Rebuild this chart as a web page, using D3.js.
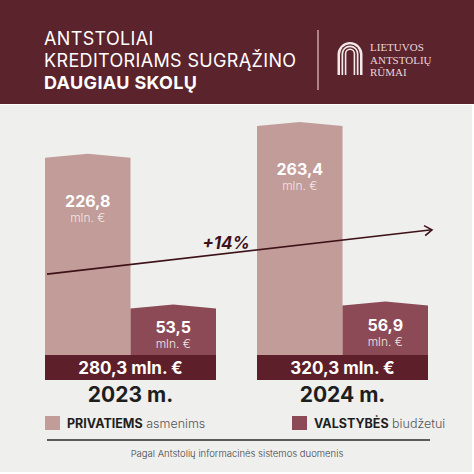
<!DOCTYPE html>
<html>
<head>
<meta charset="utf-8">
<script src="https://cdn.jsdelivr.net/npm/d3@7"></script>
<style>
  html, body { margin: 0; padding: 0; background: #ffffff; }
  svg { display: block; }
</style>
</head>
<body>
<div id="chart"></div>
<script>

const years = ["2023 m.", "2024 m."];
const privatiems = [226.8, 263.4];
const valstybes = [53.5, 56.9];
const totals = [280.3, 320.3];
const growthLabel = "+14%";
const titleLines = ["ANTSTOLIAI", "KREDITORIAMS SUGRĄŽINO", "DAUGIAU SKOLŲ"];
const logoLines = ["LIETUVOS", "ANTSTOLIŲ", "RŪMAI"];

const width = 474
const height = 474

const cPriv = "#c19c99";
const cValst = "#8c4a56";
const cTotal = "#5d1f2a";
const cHead = "#5b232c";
const cBg = "#efefed";
const sans = "Inter, 'Noto Sans', sans-serif";

const lt = d3.formatLocale({decimal: ",", thousands: " ", grouping: [3], currency: ["", " €"]});
const fmt = lt.format(".1f");

const svg = d3.select('#chart').append("svg")
  .attr("width", width)
  .attr("height", height);

// background panels
svg.append("rect").attr("width", width).attr("height", height).attr("fill", "#ffffff");
svg.append("rect").attr("x", 0).attr("y", 105).attr("width", 472).attr("height", 367).attr("fill", cBg);
svg.append("rect").attr("x", 0).attr("y", 0).attr("width", width).attr("height", 104).attr("fill", cHead);

// header title
const title = svg.append("text")
  .attr("font-family", sans)
  .attr("fill", "#ffffff")
  .attr("font-size", 18)
  .attr("letter-spacing", 0.35);
titleLines.forEach(function (t, i){
  title.append("tspan")
    .attr("x", 44)
    .attr("y", 45 + i * 22)
    .attr("font-weight", i == 2 ? 700 : 400)
    .text(t);
});

svg.append("line")
  .attr("x1", 318).attr("x2", 318)
  .attr("y1", 30).attr("y2", 90)
  .attr("stroke", "#c9a3a8")
  .attr("stroke-width", 1.5);

// logo arches
const logo = svg.append("g").attr("transform", "translate(350,75)");
const arches = [12.5, 10, 8.5, 6.8, 5.2, 3.6];
arches.forEach(function (w, i){
  const top = -33 + (12.5 - w) * 0.9;
  const r = w;
  logo.append("path")
    .attr("d", "M" + (-w) + ",0 L" + (-w) + "," + (top + r) +
               " A" + r + "," + r + " 0 0 1 " + w + "," + (top + r) +
               " L" + w + ",0 Z")
    .attr("fill", i % 2 == 0 ? "#f3e9e9" : cHead);
});

const logoText = svg.append("text")
  .attr("font-family", "'Liberation Serif', 'DejaVu Serif', serif")
  .attr("fill", "#ead6d8")
  .attr("font-size", 11);
logoLines.forEach(function (t, i){
  logoText.append("tspan")
    .attr("x", 370)
    .attr("y", 51 + i * 12.5)
    .text(t);
});

// scales
const x = d3.scaleBand()
  .domain(years)
  .range([45, 428])
  .paddingInner(0.1934)
  .paddingOuter(0);

const xs = d3.scaleBand()
  .domain(["priv", "valst"])
  .range([0, x.bandwidth()]);

const baseY = 355;
const y = d3.scaleLinear()
  .domain([0, d3.max(privatiems)])
  .range([baseY, 126]);

const rows = years.map(function (yr, i){
  return {year: yr, priv: privatiems[i], valst: valstybes[i], total: totals[i]};
});

function barPath(x0, w, top, bottom){
  const peak = 4;
  return "M" + x0 + "," + bottom +
         " L" + x0 + "," + top +
         " L" + (x0 + w / 2) + "," + (top - peak) +
         " L" + (x0 + w) + "," + top +
         " L" + (x0 + w) + "," + bottom + " Z";
}

const groups = svg.append("g")
  .selectAll("g")
  .data(rows)
  .enter()
  .append("g")
  .attr("transform", d => "translate(" + x(d.year) + ",0)");

["priv", "valst"].forEach(function (k){
  groups.append("path")
    .attr("d", d => barPath(xs(k), xs.bandwidth(), y(d[k]), baseY + 10))
    .attr("fill", k == "priv" ? cPriv : cValst);

  const off = k == "priv" ? 49 : 25;
  groups.append("text")
    .attr("x", xs(k) + xs.bandwidth() / 2)
    .attr("y", d => y(d[k]) + off)
    .attr("text-anchor", "middle")
    .attr("font-family", sans)
    .attr("font-weight", 700)
    .attr("font-size", 16)
    .attr("fill", "#ffffff")
    .text(d => fmt(d[k]));

  groups.append("text")
    .attr("x", xs(k) + xs.bandwidth() / 2)
    .attr("y", d => y(d[k]) + off + 15)
    .attr("text-anchor", "middle")
    .attr("font-family", sans)
    .attr("font-weight", 300)
    .attr("font-size", 12)
    .attr("fill", "#f3e6e6")
    .text("mln. €");
});

// totals band
groups.append("rect")
  .attr("x", 0)
  .attr("y", baseY)
  .attr("width", x.bandwidth())
  .attr("height", 25)
  .attr("fill", cTotal);

groups.append("text")
  .attr("x", x.bandwidth() / 2)
  .attr("y", baseY + 19)
  .attr("text-anchor", "middle")
  .attr("font-family", sans)
  .attr("font-weight", 700)
  .attr("font-size", 17)
  .attr("fill", "#ffffff")
  .text(d => fmt(d.total) + " mln. €");

groups.append("text")
  .attr("x", x.bandwidth() / 2)
  .attr("y", 402)
  .attr("text-anchor", "middle")
  .attr("font-family", sans)
  .attr("font-weight", 700)
  .attr("font-size", 21)
  .attr("fill", "#1e1e1e")
  .text(d => d.year);

// growth arrow
const ax0 = x.range()[0] + 2, ay0 = y(93);
const ax1 = x.range()[1] + 4, ay1 = y(144);
svg.append("line")
  .attr("x1", ax0).attr("y1", ay0)
  .attr("x2", ax1).attr("y2", ay1)
  .attr("stroke", "#3d1219")
  .attr("stroke-width", 1.6);
const ang = Math.atan2(ay1 - ay0, ax1 - ax0);
const hl = 9;
svg.append("path")
  .attr("d", "M" + (ax1 - hl * Math.cos(ang - 0.6)) + "," + (ay1 - hl * Math.sin(ang - 0.6)) +
             " L" + ax1 + "," + ay1 +
             " L" + (ax1 - hl * Math.cos(ang + 0.6)) + "," + (ay1 - hl * Math.sin(ang + 0.6)))
  .attr("fill", "none")
  .attr("stroke", "#3d1219")
  .attr("stroke-width", 1.6);

svg.append("text")
  .attr("x", 226)
  .attr("y", 249)
  .attr("text-anchor", "middle")
  .attr("font-family", sans)
  .attr("font-weight", 700)
  .attr("font-style", "italic")
  .attr("font-size", 17)
  .attr("fill", "#3d1219")
  .text(growthLabel);

// legend
const legend = [
  {bold: "PRIVATIEMS", rest: " asmenims", color: cPriv, x: 45},
  {bold: "VALSTYBĖS", rest: " biudžetui", color: cValst, x: 292}
];
legend.forEach(function (l){
  svg.append("rect")
    .attr("x", l.x).attr("y", 416)
    .attr("width", 15).attr("height", 14)
    .attr("fill", l.color);
  const t = svg.append("text")
    .attr("x", l.x + 22)
    .attr("y", 428)
    .attr("font-family", sans)
    .attr("font-size", 12.5)
    .attr("fill", "#1e1e1e");
  t.append("tspan").attr("font-weight", 700).text(l.bold);
  t.append("tspan").attr("font-weight", 300).attr("fill", "#555").text(l.rest);
});

svg.append("line")
  .attr("x1", 47).attr("x2", 430)
  .attr("y1", 440).attr("y2", 440)
  .attr("stroke", "#2a2a2a")
  .attr("stroke-width", 1.5);

svg.append("text")
  .attr("x", 237)
  .attr("y", 457)
  .attr("text-anchor", "middle")
  .attr("font-family", sans)
  .attr("font-weight", 300)
  .attr("font-size", 9.5)
  .attr("fill", "#444")
  .text("Pagal Antstolių informacinės sistemos duomenis");

</script>
</body>
</html>
